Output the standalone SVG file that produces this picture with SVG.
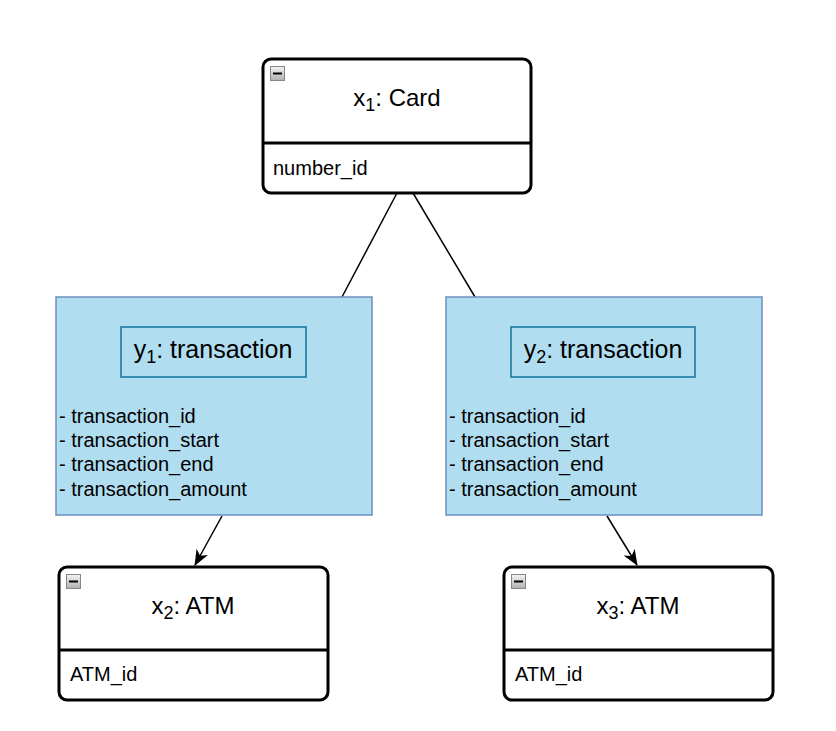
<svg xmlns="http://www.w3.org/2000/svg" width="836" height="731" viewBox="0 0 836 731">
<defs>
<style>
.cls{fill:#fff;stroke:#000;stroke-width:3}
.div{stroke:#000;stroke-width:3}
.tx{fill:#b1ddf0;stroke:#6c8ebf;stroke-width:1.5}
.lbl{fill:none;stroke:#10739e;stroke-width:1.5}
.t{font-family:"Liberation Sans",Arial,sans-serif;fill:#000}
.title{font-size:24px;text-anchor:middle}
.title2{font-size:25px;text-anchor:middle}
.sub{font-size:18px}
.attr{font-size:20px}
.icon{fill:url(#ig);stroke:#888;stroke-width:1}
.conn{stroke:#000;stroke-width:1.5;fill:none}
</style>
<linearGradient id="ig" x1="0" y1="0" x2="0" y2="1"><stop offset="0" stop-color="#f4f4f4"/><stop offset="1" stop-color="#b0b0b0"/></linearGradient>
<marker id="arr" markerWidth="16" markerHeight="16" refX="15" refY="8" orient="auto" markerUnits="userSpaceOnUse" viewBox="0 0 16 16">
<path d="M0,1.5 L16,8 L0,14.5 L4.5,8 Z" fill="#000"/>
</marker>
<g id="minus"><rect class="icon" x="0.5" y="0.5" width="14" height="14"/><line x1="3" y1="7.5" x2="12" y2="7.5" stroke="#000" stroke-width="2"/></g>
</defs>
<g id="connectors">
<line class="conn" x1="397" y1="193" x2="342" y2="297"/>
<line class="conn" x1="413" y1="193" x2="475" y2="297"/>
<line class="conn" x1="222" y1="516" x2="195" y2="565" marker-end="url(#arr)"/>
<line class="conn" x1="607" y1="516" x2="637" y2="565" marker-end="url(#arr)"/>
</g>
<g id="card">
<rect class="cls" x="263" y="59" width="268" height="134" rx="8"/>
<line class="div" x1="263" y1="143" x2="531" y2="143"/>
<use href="#minus" x="270" y="66"/>
<text class="t title" x="397" y="106">x<tspan class="sub" dy="5">1</tspan><tspan dy="-5">: Card</tspan></text>
<text class="t attr" x="273" y="175">number_id</text>
</g>
<g id="y1">
<rect class="tx" x="56" y="297" width="316" height="218"/>
<rect class="lbl" x="121" y="327" width="185" height="50"/>
<text class="t title2" x="213" y="358">y<tspan class="sub" dy="5">1</tspan><tspan dy="-5">: transaction</tspan></text>
<text class="t attr" x="59" y="423">- transaction_id</text>
<text class="t attr" x="59" y="447">- transaction_start</text>
<text class="t attr" x="59" y="471">- transaction_end</text>
<text class="t attr" x="59" y="496">- transaction_amount</text>
</g>
<g id="y2">
<rect class="tx" x="446" y="297" width="316" height="218"/>
<rect class="lbl" x="511" y="327" width="184" height="50"/>
<text class="t title2" x="603" y="358">y<tspan class="sub" dy="5">2</tspan><tspan dy="-5">: transaction</tspan></text>
<text class="t attr" x="449" y="423">- transaction_id</text>
<text class="t attr" x="449" y="447">- transaction_start</text>
<text class="t attr" x="449" y="471">- transaction_end</text>
<text class="t attr" x="449" y="496">- transaction_amount</text>
</g>
<g id="x2">
<rect class="cls" x="59" y="567" width="269" height="133" rx="8"/>
<line class="div" x1="59" y1="650" x2="328" y2="650"/>
<use href="#minus" x="66" y="574"/>
<text class="t title" x="193" y="614">x<tspan class="sub" dy="5">2</tspan><tspan dy="-5">: ATM</tspan></text>
<text class="t attr" x="70" y="681">ATM_id</text>
</g>
<g id="x3">
<rect class="cls" x="504" y="567" width="269" height="133" rx="8"/>
<line class="div" x1="504" y1="650" x2="773" y2="650"/>
<use href="#minus" x="511" y="574"/>
<text class="t title" x="638" y="614">x<tspan class="sub" dy="5">3</tspan><tspan dy="-5">: ATM</tspan></text>
<text class="t attr" x="515" y="681">ATM_id</text>
</g>
</svg>
